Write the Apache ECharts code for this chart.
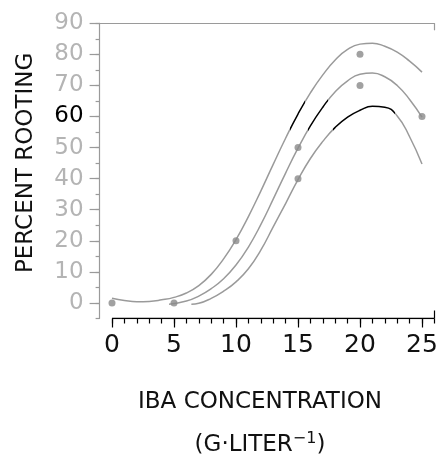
<!DOCTYPE html>
<html><head><meta charset="utf-8">
<script src="https://cdn.jsdelivr.net/npm/echarts@6/dist/echarts.min.js"></script>
<style>html,body{margin:0;padding:0;background:#fff}#c{width:437px;height:456px}</style>
</head><body><div id="c"></div>
<script>
// Observed data points
const pointX = [0, 5, 10, 15, 15, 20, 20, 25];
const pointY = [0, 0, 20, 50, 40, 80, 70, 60];

// Fitted curves
const topCurveX = [0,1,2,3,4,5,6,7,8,9,10,11,12,13,14,15,16,17,18,19,20,21,22,23,24,25];
const topCurveY = [1.5,0.8,0.4,0.5,1.0,1.8,3.2,5.6,9.2,14.2,20.4,27.8,36,44.6,53,60.8,67.6,73.4,78.2,81.6,83.3,83.6,82.6,80.7,77.8,74.3];
const midCurveX = [4.6,6,7,8,9,10,11,12,13,14,15,16,17,18,19,20,21,22,23,24,25];
const midCurveY = [-0.4,0.6,2.2,4.6,7.8,12.2,18,25.2,33.4,41.8,49.8,57,63,68,71.5,73.6,74,72.8,70,65.5,59.8];
const botCurveX = [6.4,7,8,9,10,11,12,13,14,15,16,17,18,19,20,21,22,23,24,25];
const botCurveY = [-0.4,-0.1,1.5,3.8,6.8,11,17,24.5,32,39.7,46.5,52,56.5,59.8,62,63.3,63,60.2,53.5,44.7];

// Darker (black) stretches of each curve, by concentration range
const topDark = [14.35, 15.6];
const midDark = [15.8, 17.4];
const botDark = [17.8, 22.8];

// Tick values
const xMinorTicks = [0,1,2,3,4,5,6,7,8,9,10,11,12,13,14,15,16,17,18,19,20,21,22,23,24,25,26];
const xMajorTicks = [0,5,10,15,20,25];
const xLabels = [0,5,10,15,20,25];
const yMinorTicks = [-5,0,5,10,15,20,25,30,35,40,45,50,55,60,65,70,75,80,85,90];
const yMajorTicks = [0,10,20,30,40,50,60,70,80,90];
const yLabels = [0,10,20,30,40,50,60,70,80,90];
const xRange = [-1, 26];
const yRange = [-5, 90];
const xFrameLine = [0, 26];

const zip = (xs, ys) => xs.map((x, i) => [x, ys[i]]);

const FONT = 'DejaVu Sans';
const GRAY = '#9a9a9a';
const chart = echarts.init(document.getElementById('c'), null, {renderer: 'canvas'});

const baseX = (extra) => Object.assign({
  type: 'value', min: xRange[0], max: xRange[1], gridIndex: 0,
  splitLine: {show: false}, axisLabel: {show: false},
  axisLine: {show: false, onZero: false}
}, extra);

const curveSeries = (name, xs, ys) => ({
  name, type: 'line', data: zip(xs, ys), smooth: true, showSymbol: false,
  symbol: 'none', lineStyle: {width: 1.5}, silent: true, z: 3, xAxisIndex: 0, yAxisIndex: 0
});

const darkMap = (seriesIndex, r) => ({
  type: 'piecewise', show: false, dimension: 0, seriesIndex,
  pieces: [
    {lt: r[0], color: GRAY},
    {gte: r[0], lte: r[1], color: '#000'},
    {gt: r[1], color: GRAY}
  ]
});

chart.setOption({
  animation: false,
  backgroundColor: '#fff',
  grid: {left: 99.6, right: 2.6, top: 23.3, bottom: 137.5, containLabel: false, outerBoundsMode: 'none'},
  xAxis: [
    baseX({
      position: 'bottom',
      axisTick: {show: true, customValues: xMinorTicks, length: 5, lineStyle: {color: '#000', width: 1.2}},
      axisLabel: {show: true, customValues: xLabels, fontFamily: FONT, fontSize: 25, color: '#111', margin: 14},
      name: 'IBA CONCENTRATION\n(G·LITER{sup|−1})',
      nameLocation: 'middle', nameGap: 62,
      nameTextStyle: {fontFamily: FONT, fontSize: 23, color: '#111', lineHeight: 43, padding: [0, 14, 0, 0],
        rich: {sup: {fontFamily: FONT, fontSize: 16, color: '#111', padding: [0, 0, 12, 0]}}}
    }),
    baseX({position: 'bottom', axisTick: {show: true, customValues: xMajorTicks, length: 9, lineStyle: {color: '#000', width: 1.2}}}),
    baseX({position: 'top', axisLine: {show: true, onZero: false, lineStyle: {color: GRAY, width: 1.2}},
      axisTick: {show: true, customValues: [xRange[1]], inside: true, length: 7, lineStyle: {color: GRAY, width: 1.2}}}),
    baseX({position: 'bottom', axisTick: {show: true, customValues: [xRange[1]], inside: true, length: 8, lineStyle: {color: '#000', width: 1.2}}})
  ],
  yAxis: [
    {
      type: 'value', min: yRange[0], max: yRange[1], position: 'left',
      splitLine: {show: false},
      axisLine: {show: true, onZero: false, lineStyle: {color: GRAY, width: 1.2}},
      axisTick: {show: true, customValues: yMinorTicks, length: 4, lineStyle: {color: GRAY, width: 1.2}},
      axisLabel: {show: true, customValues: yLabels, fontFamily: FONT, fontSize: 23, margin: 16,
        color: (v) => (Number(v) === 60 ? '#000' : '#b4b4b4')},
      name: 'PERCENT ROOTING', nameLocation: 'middle', nameGap: 62, nameRotate: 90,
      nameTextStyle: {fontFamily: FONT, fontSize: 23, color: '#111', padding: [0, 0, 0, 16]}
    },
    {
      type: 'value', min: yRange[0], max: yRange[1], position: 'left',
      splitLine: {show: false}, axisLabel: {show: false},
      axisLine: {show: false, onZero: false},
      axisTick: {show: true, customValues: yMajorTicks, length: 10, lineStyle: {color: GRAY, width: 1.2}}
    }
  ],
  visualMap: [darkMap(0, topDark), darkMap(1, midDark), darkMap(2, botDark)],
  series: [
    curveSeries('upper', topCurveX, topCurveY),
    curveSeries('middle', midCurveX, midCurveY),
    curveSeries('lower', botCurveX, botCurveY),
    {
      name: 'observed', type: 'scatter', data: zip(pointX, pointY), symbol: 'circle', symbolSize: 7,
      itemStyle: {color: '#8a8a8a'}, clip: false, z: 4
    },
    {
      name: 'x axis line', type: 'line', data: xFrameLine.map(x => [x, yRange[0]]), symbol: 'none',
      lineStyle: {color: '#000', width: 1.3}, silent: true, z: 2
    }
  ]
});
</script>
</body></html>
